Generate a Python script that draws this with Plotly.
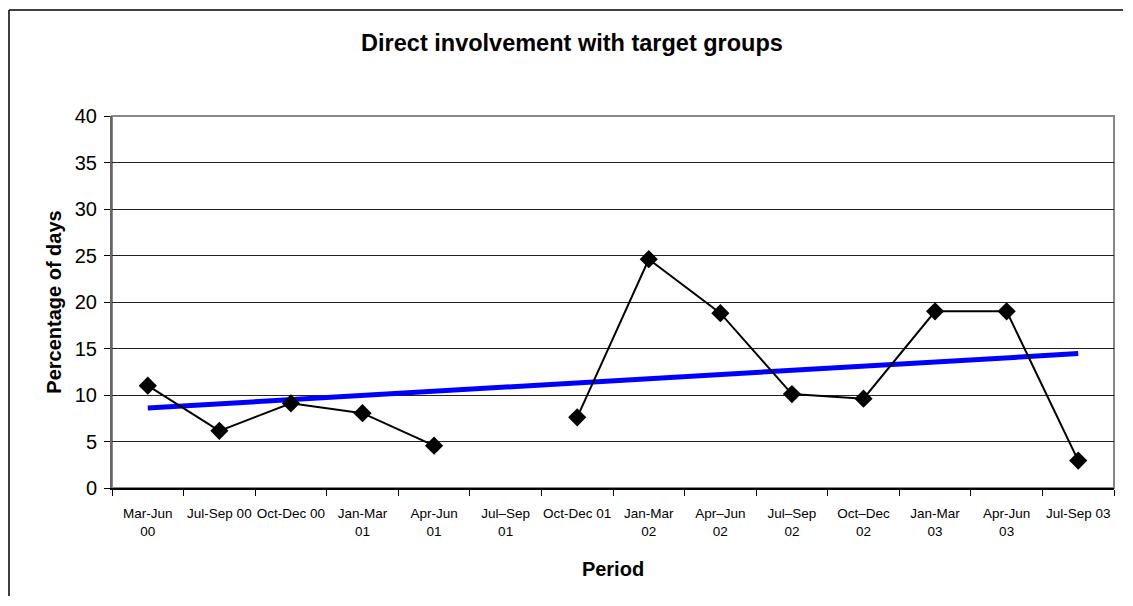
import plotly.graph_objects as go

periods = [
    "Mar-Jun<br>00", "Jul-Sep 00", "Oct-Dec 00", "Jan-Mar<br>01", "Apr-Jun<br>01",
    "Jul–Sep<br>01", "Oct-Dec 01", "Jan-Mar<br>02", "Apr–Jun<br>02", "Jul–Sep<br>02",
    "Oct–Dec<br>02", "Jan-Mar<br>03", "Apr-Jun<br>03", "Jul-Sep 03",
]
pct_days = [11.0, 6.15, 9.1, 8.05, 4.55, None, 7.6, 24.6, 18.8, 10.1, 9.6, 19.0, 19.0, 2.95]

# linear trend as drawn in the original, first and last period only
trend_x = [periods[0], periods[-1]]
trend_vals = [8.6, 14.45]

font = "Liberation Sans, Arial, sans-serif"

# the page body adds an 8px margin; keep the figure small enough to avoid scrollbars
W, H = 1115, 588
L, T, R, B = 104, 108, 1106, 480

fig = go.Figure()
fig.add_trace(go.Scatter(
    x=trend_x, y=trend_vals, mode="lines",
    line=dict(color="#0000ff", width=5), hoverinfo="skip",
))
fig.add_trace(go.Scatter(
    x=periods, y=pct_days, mode="lines+markers", connectgaps=False,
    line=dict(color="black", width=2),
    marker=dict(symbol="diamond", size=14, color="black"),
))

# chart area border: only its left and top edges are inside the picture
bx0 = (1 - L) / (R - L)
bx1 = (W + 40 - L) / (R - L)
by0 = (B - H - 40) / (B - T)
by1 = (B - 2) / (B - T)

fig.update_layout(
    width=W, height=H,
    margin=dict(l=L, r=W - R, t=T, b=H - B, autoexpand=False),
    paper_bgcolor="white", plot_bgcolor="white",
    showlegend=False,
    font=dict(family=font, color="black"),
    title=dict(
        text="<b>Direct involvement with target groups</b>",
        font=dict(size=23.5, family=font, color="black"),
        x=564 / W, xref="container", xanchor="center",
        y=1 - 35 / H, yref="container", yanchor="middle",
    ),
    xaxis=dict(
        type="category", categoryorder="array", categoryarray=periods,
        range=[-0.5, 13.5], tickson="boundaries", tickangle=0, automargin=False,
        ticks="outside", ticklen=6, tickcolor="black", ticklabelstandoff=12,
        showline=True, linecolor="black", linewidth=1.5,
        showgrid=False, tickfont=dict(size=13.5, family=font),
        title=dict(text="<b>Period</b>", font=dict(size=20, family=font), standoff=24),
    ),
    yaxis=dict(
        range=[0, 40], dtick=5, ticks="outside", ticklen=6, tickcolor="black",
        showline=True, linecolor="#666", linewidth=2, automargin=False,
        ticklabelstandoff=3,
        showgrid=True, gridcolor="#222", gridwidth=1, zeroline=False,
        tickfont=dict(size=20, family=font),
        title=dict(text="<b>Percentage of days</b>", font=dict(size=20, family=font), standoff=8),
    ),
    shapes=[
        # plot area border
        dict(type="rect", xref="paper", yref="paper", x0=0, y0=0, x1=1, y1=1,
             line=dict(color="#888", width=2), layer="below"),
        dict(type="line", xref="paper", yref="paper", x0=bx0, x1=bx0, y0=by0, y1=by1,
             line=dict(color="black", width=1.5)),
        dict(type="line", xref="paper", yref="paper", x0=bx0, x1=bx1, y0=by1, y1=by1,
             line=dict(color="black", width=1.5)),
    ],
)

fig.write_html("out.html")
